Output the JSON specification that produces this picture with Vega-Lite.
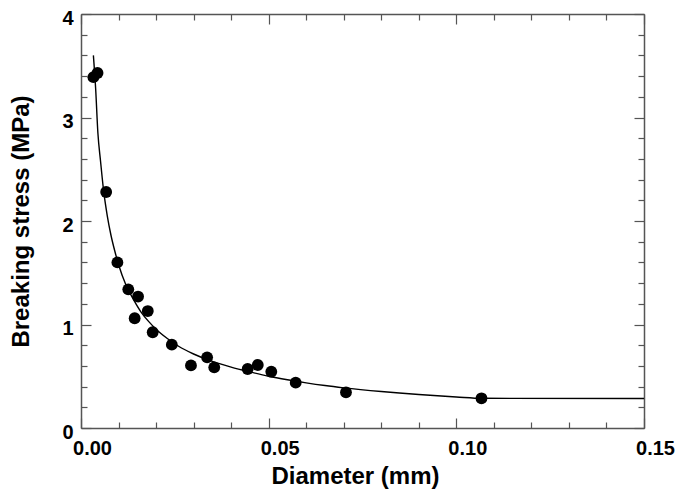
{
  "$schema": "https://vega.github.io/schema/vega-lite/v6.json",
  "width": 563,
  "height": 414,
  "autosize": "none",
  "padding": {"left": 81, "top": 14, "right": 34, "bottom": 71},
  "background": "white",
  "config": {"view": {"stroke": null}, "font": "Liberation Sans"},
  "datasets": {
    "points": [
      {"d": 0.0033, "s": 3.39}, {"d": 0.0044, "s": 3.43}, {"d": 0.0067, "s": 2.28},
      {"d": 0.0097, "s": 1.60}, {"d": 0.0126, "s": 1.34}, {"d": 0.0152, "s": 1.27},
      {"d": 0.0143, "s": 1.06}, {"d": 0.0178, "s": 1.13}, {"d": 0.0191, "s": 0.925},
      {"d": 0.0242, "s": 0.805}, {"d": 0.0293, "s": 0.605}, {"d": 0.0336, "s": 0.683},
      {"d": 0.0355, "s": 0.586}, {"d": 0.0444, "s": 0.570}, {"d": 0.0471, "s": 0.609},
      {"d": 0.0507, "s": 0.544}, {"d": 0.0572, "s": 0.438}, {"d": 0.0706, "s": 0.345},
      {"d": 0.1067, "s": 0.287}
    ],
    "curve": [
      {"d": 0.0033, "s": 3.60}, {"d": 0.0039, "s": 3.28}, {"d": 0.0045, "s": 2.85},
      {"d": 0.0052, "s": 2.58}, {"d": 0.006, "s": 2.30}, {"d": 0.007, "s": 2.05},
      {"d": 0.008, "s": 1.86}, {"d": 0.009, "s": 1.71}, {"d": 0.010, "s": 1.58},
      {"d": 0.012, "s": 1.38}, {"d": 0.014, "s": 1.24}, {"d": 0.016, "s": 1.12},
      {"d": 0.018, "s": 1.03}, {"d": 0.020, "s": 0.955}, {"d": 0.023, "s": 0.865},
      {"d": 0.026, "s": 0.79}, {"d": 0.030, "s": 0.715}, {"d": 0.035, "s": 0.643},
      {"d": 0.040, "s": 0.588}, {"d": 0.045, "s": 0.542}, {"d": 0.050, "s": 0.500},
      {"d": 0.055, "s": 0.466}, {"d": 0.060, "s": 0.436}, {"d": 0.065, "s": 0.410},
      {"d": 0.070, "s": 0.388}, {"d": 0.080, "s": 0.352}, {"d": 0.090, "s": 0.323},
      {"d": 0.100, "s": 0.300}, {"d": 0.107, "s": 0.287}, {"d": 0.150, "s": 0.285}
    ]
  },
  "layer": [
    {
      "data": {"name": "curve"},
      "mark": {"type": "line", "color": "black", "strokeWidth": 1.4, "interpolate": "monotone"},
      "encoding": {
        "x": {
          "field": "d", "type": "quantitative",
          "scale": {"domain": [0, 0.15], "nice": false, "zero": false},
          "axis": {
            "orient": "top", "title": null, "labels": false, "grid": false,
            "values": [0, 0.01, 0.02, 0.03, 0.04, 0.05, 0.06, 0.07, 0.08, 0.09, 0.1, 0.11, 0.12, 0.13, 0.14, 0.15],
            "tickSize": {"condition": {"test": "abs(datum.value*20 - round(datum.value*20)) < 0.001", "value": -10}, "value": -6},
            "domainColor": "#555", "tickColor": "#555", "domainWidth": 1.5, "tickWidth": 1.2
          }
        },
        "y": {
          "field": "s", "type": "quantitative",
          "scale": {"domain": [0, 4], "nice": false},
          "axis": {
            "orient": "right", "title": null, "labels": false, "grid": false,
            "values": [0, 0.2, 0.4, 0.6, 0.8, 1, 1.2, 1.4, 1.6, 1.8, 2, 2.2, 2.4, 2.6, 2.8, 3, 3.2, 3.4, 3.6, 3.8, 4],
            "tickSize": {"condition": {"test": "abs(datum.value - round(datum.value)) < 0.001", "value": -10}, "value": -6},
            "domainColor": "#555", "tickColor": "#555", "domainWidth": 1.5, "tickWidth": 1.2
          }
        }
      }
    },
    {
      "data": {"name": "points"},
      "mark": {"type": "circle", "color": "black", "size": 140, "opacity": 1},
      "encoding": {
        "x": {
          "field": "d", "type": "quantitative",
          "scale": {"domain": [0, 0.15], "nice": false, "zero": false},
          "axis": {
            "orient": "bottom", "title": "Diameter (mm)", "grid": false,
            "values": [0, 0.01, 0.02, 0.03, 0.04, 0.05, 0.06, 0.07, 0.08, 0.09, 0.1, 0.11, 0.12, 0.13, 0.14, 0.15],
            "labelExpr": "abs(datum.value*20 - round(datum.value*20)) < 0.001 ? format(datum.value, '.2f') : ''",
            "tickSize": {"condition": {"test": "abs(datum.value*20 - round(datum.value*20)) < 0.001", "value": -10}, "value": -6},
            "domainColor": "#555", "tickColor": "#555", "domainWidth": 1.5, "tickWidth": 1.2,
            "labelFont": "Liberation Sans", "labelFontWeight": "bold", "labelFontSize": 20, "labelColor": "black",
            "labelPadding": 20, "labelOffset": 11, "labelFlush": false, "labelOverlap": false,
            "titleFont": "Liberation Sans", "titleFontWeight": "bold", "titleFontSize": 24, "titleColor": "black",
            "titlePadding": 2, "titleX": 274
          }
        },
        "y": {
          "field": "s", "type": "quantitative",
          "scale": {"domain": [0, 4], "nice": false},
          "axis": {
            "orient": "left", "title": "Breaking stress (MPa)", "grid": false,
            "values": [0, 0.2, 0.4, 0.6, 0.8, 1, 1.2, 1.4, 1.6, 1.8, 2, 2.2, 2.4, 2.6, 2.8, 3, 3.2, 3.4, 3.6, 3.8, 4],
            "labelExpr": "abs(datum.value - round(datum.value)) < 0.001 ? format(datum.value, 'd') : ''",
            "tickSize": {"condition": {"test": "abs(datum.value - round(datum.value)) < 0.001", "value": -10}, "value": -6},
            "domainColor": "#555", "tickColor": "#555", "domainWidth": 1.5, "tickWidth": 1.2,
            "labelFont": "Liberation Sans", "labelFontWeight": "bold", "labelFontSize": 20, "labelColor": "black",
            "labelPadding": 18, "labelOffset": 4, "labelFlush": false, "labelOverlap": false,
            "titleFont": "Liberation Sans", "titleFontWeight": "bold", "titleFontSize": 24, "titleColor": "black",
            "titlePadding": 28
          }
        }
      }
    }
  ],
  "resolve": {"axis": {"x": "independent", "y": "independent"}}
}
